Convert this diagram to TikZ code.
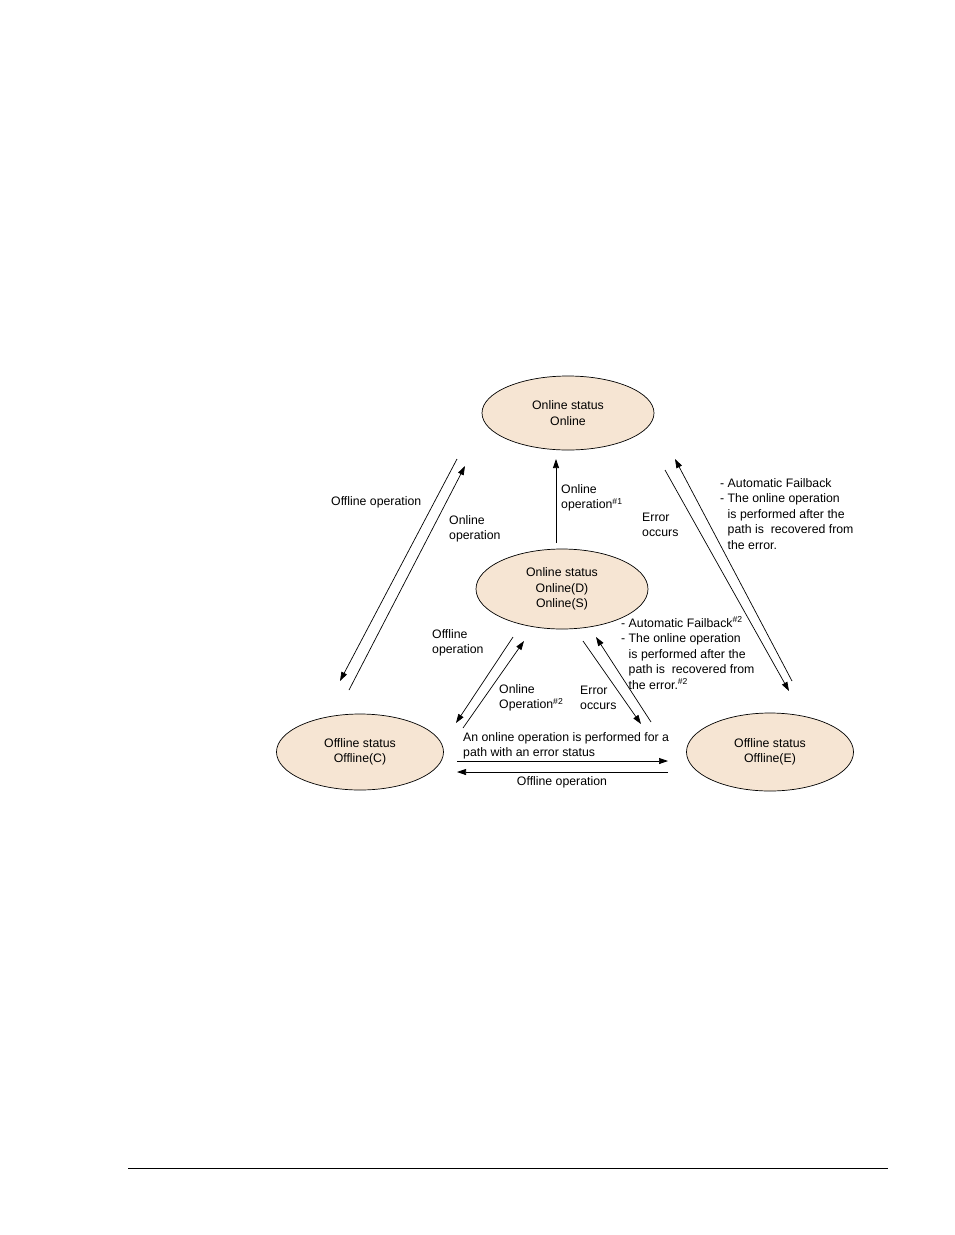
\documentclass[tikz,border=0pt]{standalone}
\usepackage{fontspec}
\setmainfont{Liberation Sans}
\usetikzlibrary{shapes.geometric,arrows.meta}
\definecolor{speach}{HTML}{F6E5D3}

\begin{document}
\begin{tikzpicture}[x=1pt,y=-1pt,
  state/.style={ellipse, draw, fill=speach, line width=0.7pt, align=center,
    font=\fontsize{12.3}{15.5}\selectfont, inner sep=0pt},
  lbl/.style={align=left, inner sep=0pt, anchor=west,
    font=\fontsize{12.3}{15.5}\selectfont},
  trans/.style={line width=0.7pt, -{Triangle[length=9pt,width=6pt]}}]
 \useasboundingbox (0,0) rectangle (954,1235);
 % states
 \node[state, minimum width=172pt, minimum height=74pt] (on) at (568,413) {Online status\\Online};
 \node[state, minimum width=172pt, minimum height=80pt] (onds) at (562,589) {Online status\\Online(D)\\Online(S)};
 \node[state, minimum width=167pt, minimum height=76pt] (offc) at (360,752) {Offline status\\Offline(C)};
 \node[state, minimum width=167pt, minimum height=78pt] (offe) at (770,752) {Offline status\\Offline(E)};
 % end points of the transitions
 \coordinate (a1) at (556,543);  \coordinate (a2) at (556,459);
 \coordinate (b1) at (457,459);  \coordinate (b2) at (340,681);
 \coordinate (c1) at (349,690);  \coordinate (c2) at (465,466);
 \coordinate (d1) at (792,681);  \coordinate (d2) at (675,459);
 \coordinate (e1) at (665,470);  \coordinate (e2) at (789,691);
 \coordinate (f1) at (513,637);  \coordinate (f2) at (456,723);
 \coordinate (g1) at (463,728);  \coordinate (g2) at (524,641);
 \coordinate (h1) at (583,641);  \coordinate (h2) at (641,724);
 \coordinate (i1) at (651,722);  \coordinate (i2) at (596,637);
 \coordinate (j1) at (457,761);  \coordinate (j2) at (668,761);
 \coordinate (k1) at (668,772);  \coordinate (k2) at (457,772);
 \foreach \s/\t in {a1/a2,b1/b2,c1/c2,d1/d2,e1/e2,f1/f2,g1/g2,h1/h2,i1/i2,j1/j2,k1/k2}
   \draw[trans] (\s) -- (\t);
 % labels
 \node[lbl] (l1) at (331,502) {Offline operation};
 \node[lbl] (l2) at (449,529) {Online\\operation};
 \node[lbl] (l3) at (561,498) {Online\\operation\textsuperscript{\#1}};
 \node[lbl] (l4) at (642,525) {Error\\occurs};
 \node[lbl] (l5) at (720,514) {- Automatic Failback\\- The online operation\\\phantom{- }is performed after the\\\phantom{- }path is\ \ recovered from\\\phantom{- }the error.};
 \node[lbl] (l6) at (432,643) {Offline\\operation};
 \node[lbl] (l7) at (499,698) {Online\\Operation\textsuperscript{\#2}};
 \node[lbl] (l8) at (580,698) {Error\\occurs};
 \node[lbl] (l9) at (621,653) {- Automatic Failback\textsuperscript{\#2}\\- The online operation\\\phantom{- }is performed after the\\\phantom{- }path is\ \ recovered from\\\phantom{- }the error.\textsuperscript{\#2}};
 \node[lbl] (l10) at (463,746) {An online operation is performed for a\\path with an error status};
 \node[lbl, anchor=center] (l11) at (562,782) {Offline operation};
 % footer rule
 \draw[line width=0.8pt] (128,1168) -- (888,1168);
\end{tikzpicture}
\end{document}
